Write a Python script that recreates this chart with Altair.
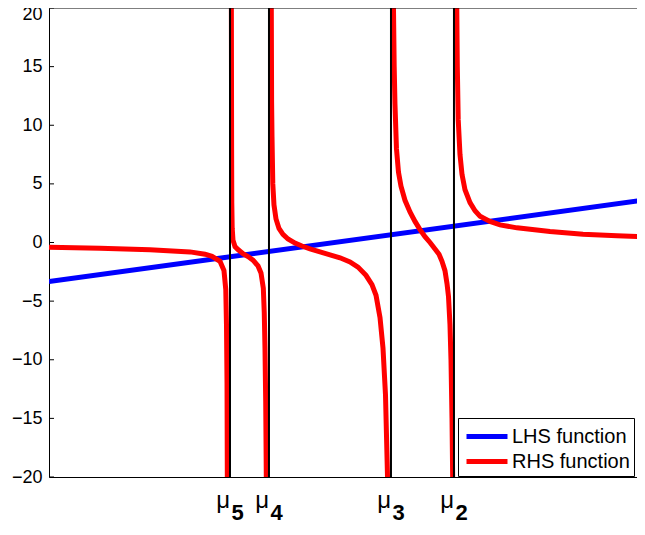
import altair as alt
import pandas as pd

# ---- data (x in arbitrary units, 59.6 px per unit) ----
MU_NAMES = ["5", "4", "3", "2"]
MU_X = [3.037, 3.691, 5.738, 6.795]

LHS_X = [0.0, 10.0]
LHS_Y = [-3.33, 3.63]

B0_X = [0.0, 0.856, 1.695, 2.366, 2.617, 2.735, 2.869, 2.936, 2.966, 2.978, 2.987, 2.992]
B0_Y = [-0.40, -0.48, -0.62, -0.80, -1.00, -1.18, -1.60, -2.40, -4.0, -7.0, -12.0, -20.0]

B1_X = [3.060, 3.064, 3.067, 3.074, 3.087, 3.121, 3.171, 3.255, 3.339, 3.423, 3.507,
        3.557, 3.596, 3.612, 3.624, 3.636, 3.646]
B1_Y = [20.0, 8.0, 3.4, 1.2, 0.2, -0.35, -0.6, -0.95, -1.2, -1.5, -2.0,
        -2.6, -3.9, -6.0, -9.0, -13.5, -20.0]

B2_X = [3.730, 3.735, 3.742, 3.755, 3.775, 3.809, 3.859, 3.926, 4.010, 4.128, 4.245,
        4.379, 4.547, 4.715, 4.883, 5.050, 5.185, 5.319, 5.419, 5.487, 5.554, 5.604,
        5.646, 5.680]
B2_Y = [20.0, 12.0, 9.0, 5.0, 3.2, 2.0, 1.2, 0.7, 0.3, -0.05, -0.3,
        -0.55, -0.8, -1.05, -1.3, -1.65, -2.1, -2.8, -3.6, -4.5, -6.4, -9.0,
        -13.0, -20.0]

B3_X = [5.780, 5.792, 5.805, 5.830, 5.864, 5.906, 5.973, 6.057, 6.141, 6.225, 6.309,
        6.393, 6.477, 6.544, 6.594, 6.644, 6.678, 6.703, 6.728, 6.745, 6.762, 6.773]
B3_Y = [20.0, 15.0, 11.8, 8.0, 6.0, 4.8, 3.6, 2.6, 1.8, 1.1, 0.5,
        0.0, -0.55, -1.0, -1.6, -2.4, -3.5, -4.6, -7.0, -10.0, -15.0, -20.0]

B4_X = [6.842, 6.851, 6.866, 6.896, 6.930, 6.980, 7.064, 7.148, 7.232, 7.399, 7.567,
        7.852, 8.406, 8.960, 9.530, 10.0]
B4_Y = [20.0, 15.0, 10.5, 7.5, 5.8, 4.5, 3.4, 2.7, 2.25, 1.8, 1.5,
        1.25, 0.93, 0.70, 0.57, 0.5]

Y_TICKS = [-20, -15, -10, -5, 0, 5, 10, 15, 20]
SERIES = ["LHS function", "RHS function"]
COLORS = ["#0000ff", "#ff0000"]

# ---- tables ----
branches = [(B0_X, B0_Y), (B1_X, B1_Y), (B2_X, B2_Y), (B3_X, B3_Y), (B4_X, B4_Y)]
rhs_df = pd.concat(
    [pd.DataFrame({"x": bx, "y": by, "branch": i, "series": SERIES[1]})
     for i, (bx, by) in enumerate(branches)],
    ignore_index=True,
)
lhs_df = pd.DataFrame({"x": LHS_X, "y": LHS_Y, "series": SERIES[0]})
mu_df = pd.DataFrame({"x": MU_X, "name": MU_NAMES, "sym": ["\u03bc"] * len(MU_X)})
tick_df = pd.DataFrame({"y": Y_TICKS})
top_df = pd.DataFrame({"y": [max(Y_TICKS)]})

W, H = 588, 469
FONT = "Liberation Sans"

x_scale = alt.Scale(domain=[0, 9.866], nice=False, zero=False)
y_scale = alt.Scale(domain=[-20, 20], nice=False, zero=False)
color_scale = alt.Scale(domain=SERIES, range=COLORS)

lhs = alt.Chart(lhs_df).mark_line(strokeWidth=5, clip=True).encode(
    x=alt.X("x:Q", scale=x_scale,
            axis=alt.Axis(title=None, labels=False, ticks=False, grid=False,
                          domainColor="black", domainWidth=1)),
    y=alt.Y("y:Q", scale=y_scale,
            axis=alt.Axis(title=None, values=Y_TICKS, ticks=False, grid=False,
                          labelPadding=7, labelFontSize=18, labelFont=FONT,
                          labelColor="black", domainColor="black", domainWidth=1,
                          labelOffset={"condition": {"test": "datum.value == 20", "value": 6.5},
                                       "value": 0})),
    color=alt.Color("series:N", scale=color_scale,
                    legend=alt.Legend(title=None, orient="none", legendX=409, legendY=410,
                                      symbolType="M-0.833,0H2.583", symbolSize=576,
                                      symbolStrokeWidth=5, labelFontSize=20,
                                      labelFont=FONT, labelColor="black",
                                      labelOffset=21, padding=4, rowPadding=0,
                                      labelLimit=300,
                                      strokeColor="black", fillColor="white")),
)

rhs = alt.Chart(rhs_df).mark_line(strokeWidth=5, clip=True).encode(
    x=alt.X("x:Q", scale=x_scale),
    y=alt.Y("y:Q", scale=y_scale),
    color=alt.Color("series:N", scale=color_scale),
    detail="branch:N",
)

poles = alt.Chart(mu_df).mark_rule(color="black", strokeWidth=2, clip=True).encode(
    x=alt.X("x:Q", scale=x_scale)
)

left_ticks = alt.Chart(tick_df).mark_rule(color="black", strokeWidth=1).encode(
    y=alt.Y("y:Q", scale=y_scale), x=alt.value(0), x2=alt.value(5)
)
top_line = alt.Chart(top_df).mark_rule(color="black", strokeWidth=1).encode(
    y=alt.Y("y:Q", scale=y_scale), x=alt.value(0), x2=alt.value(W)
)

mu_sym = alt.Chart(mu_df).mark_text(
    align="right", baseline="alphabetic", fontSize=24, font=FONT, color="black"
).encode(x=alt.X("x:Q", scale=x_scale), y=alt.value(500), text="sym:N")

mu_sub = alt.Chart(mu_df).mark_text(
    align="left", baseline="alphabetic", fontSize=22, font=FONT, fontWeight="bold",
    color="black", dx=1.5
).encode(x=alt.X("x:Q", scale=x_scale), y=alt.value(512), text="name:N")

chart = alt.layer(
    lhs, rhs, poles, left_ticks, top_line, mu_sym, mu_sub
).properties(
    width=W, height=H,
    autosize=alt.AutoSizeParams(type="none"),
    padding={"left": 41, "top": 0, "right": 0, "bottom": 46},
    background="white",
).configure_view(stroke=None)

chart.save("out.html", embed_options={"renderer": "svg", "actions": False})
